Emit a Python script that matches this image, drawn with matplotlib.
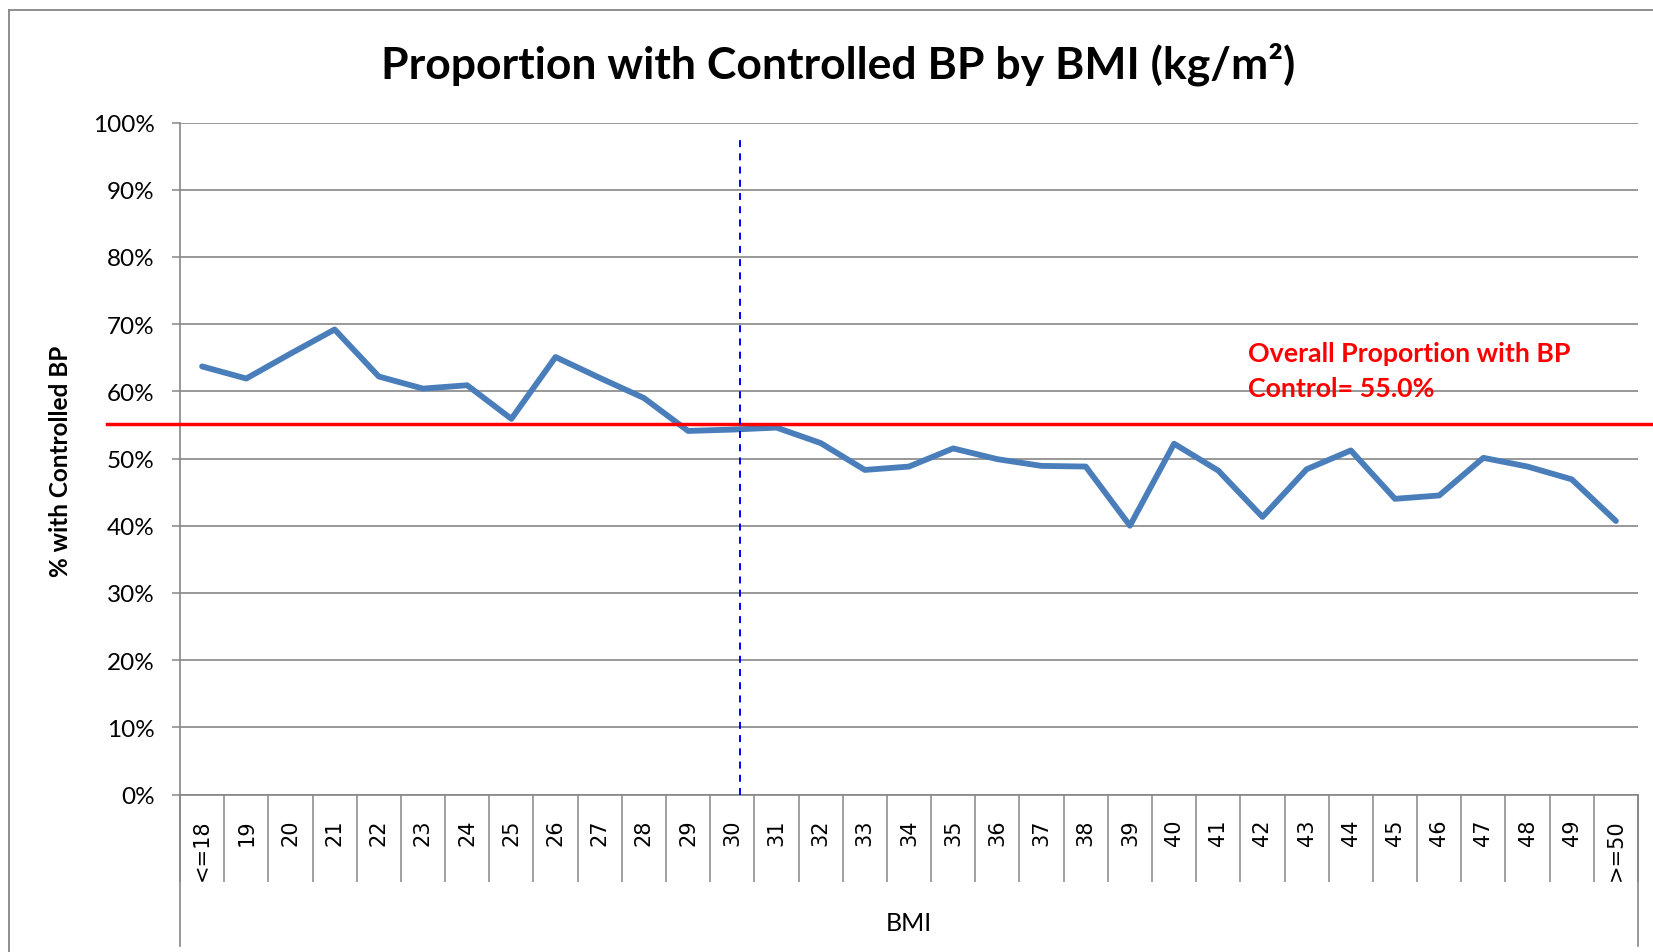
import matplotlib
matplotlib.use("Agg")
import matplotlib.pyplot as plt
from matplotlib.lines import Line2D
import numpy as np

# ---- data ----
categories = ['<=18'] + [str(v) for v in range(19, 50)] + ['>=50']
pct_controlled = [63.7, 61.9, 65.6, 69.2, 62.2, 60.4, 60.9, 55.9, 65.1, 62.0,
                  59.0, 54.1, 54.3, 54.6, 52.3, 48.3, 48.8, 51.5, 49.9, 48.9,
                  48.8, 40.0, 52.2, 48.2, 41.3, 48.4, 51.2, 44.0, 44.5, 50.1,
                  48.8, 46.9, 40.7]
overall_line = 55.1          # drawn reference line (%)
overall_label = "55.0%"
cutoff_pos = 12.18           # position of dashed BMI-30 marker (category index units)
cutoff_top = 97.5
y_ticks = list(range(0, 101, 10))

W, H = 1653, 953
DPI = 100
fig = plt.figure(figsize=(W / DPI, H / DPI), dpi=DPI)

def fx(px):
    return px / W

def fy(py):
    return 1 - py / H

GRAY = '#868686'
BLUE = '#4a7ebb'
UI = 'Lato'

# axes placement (pixels)
L, R, T, B = 180, 1638, 123.5, 795.5
ax = fig.add_axes([fx(L), fy(B), (R - L) / W, (B - T) / H])

x = np.arange(len(categories))
ax.plot(x, pct_controlled, color=BLUE, lw=4.2, solid_joinstyle='round',
        solid_capstyle='round', zorder=3)

ax.set_xlim(-0.5, len(categories) - 0.5)
ax.set_ylim(0, 100)

# y axis
ax.set_yticks(y_ticks)
ax.set_yticklabels([f"{v}%" for v in y_ticks], fontfamily=UI, fontsize=17.5)
ax.yaxis.grid(True, color=GRAY, lw=1.2)
ax.set_axisbelow(True)
ax.tick_params(axis='y', direction='out', length=5.8, width=1.1, color=GRAY, pad=12.5)

# x axis: labels at centers, boundary ticks between categories
ax.set_xticks(x)
ax.set_xticklabels(categories, rotation=90, fontfamily='DejaVu Sans', fontsize=15)
ax.set_xticks(np.arange(-0.5, len(categories), 1.0), minor=True)
ax.tick_params(axis='x', which='major', length=0, pad=17.5)
ax.tick_params(axis='x', which='minor', direction='out', length=62.6, width=1.1, color=GRAY)

for s in ['top', 'right']:
    ax.spines[s].set_visible(False)
for s in ['left', 'bottom']:
    ax.spines[s].set_color(GRAY)
    ax.spines[s].set_linewidth(1.2)

# extended axis lines below the plot
fig.add_artist(Line2D([fx(L), fx(L)], [fy(B), fy(947)], color=GRAY, lw=1.2))
fig.add_artist(Line2D([fx(R), fx(R)], [fy(B), fy(947)], color=GRAY, lw=1.2))

# outer chart border (left & top visible)
fig.add_artist(Line2D([fx(9), fx(9)], [fy(11), fy(953)], color=GRAY, lw=1.3))
fig.add_artist(Line2D([fx(9), fx(1653)], [fy(11), fy(11)], color=GRAY, lw=1.3))

# overall proportion line
ax.axhline(overall_line, xmin=(107 - L) / (R - L), xmax=(W - L) / (R - L),
           color='#ff0000', lw=2.5, clip_on=False, zorder=4)

# dashed vertical marker
ax.plot([cutoff_pos, cutoff_pos], [0, cutoff_top], color='#0000ff', lw=1.4,
        linestyle=(0, (3.6, 3.2)), zorder=5)

# annotation
fig.text(fx(1248), fy(362), "Overall Proportion with BP", color='#ff0000',
         fontfamily=UI, fontweight='bold', fontsize=19.3, ha='left', va='baseline')
fig.text(fx(1248), fy(397), f"Control= {overall_label}", color='#ff0000',
         fontfamily=UI, fontweight='bold', fontsize=19.3, ha='left', va='baseline')

# title
fig.text(fx(838), fy(78), "Proportion with Controlled BP by BMI (kg/m²)",
         fontfamily=UI, fontweight='bold', fontsize=32, ha='center', va='baseline')

# axis labels
fig.text(fx(60), fy(461), "% with Controlled BP", rotation=90, fontfamily=UI,
         fontweight='bold', fontsize=17.5, ha='center', va='center')
fig.text(fx(909), fy(924), "BMI", fontfamily=UI, fontsize=18, ha='center', va='center')

fig.savefig("out.png", dpi=DPI)
